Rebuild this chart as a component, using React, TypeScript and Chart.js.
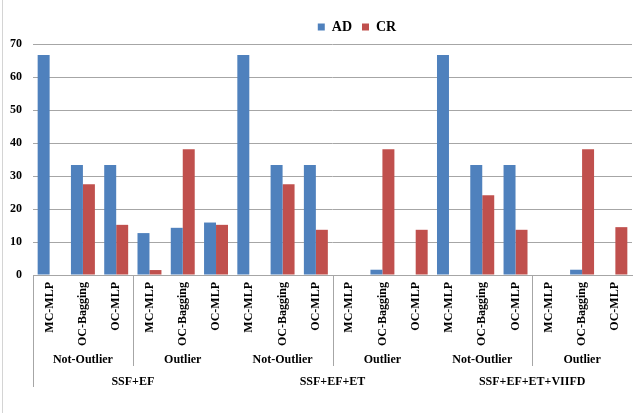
import React, { useEffect, useRef } from "react";
import { Chart, registerables } from "chart.js";

Chart.register(...registerables);

const methods = ["MC-MLP", "OC-Bagging", "OC-MLP"];
const subgroups = ["Not-Outlier", "Outlier"];
const groups = ["SSF+EF", "SSF+EF+ET", "SSF+EF+ET+VIIFD"];
const categories: string[] = [];
groups.forEach(() => subgroups.forEach(() => methods.forEach((m) => categories.push(m))));

const adValues = [66.7, 33.3, 33.3, 12.7, 14.3, 15.9, 66.7, 33.3, 33.3, 0, 1.6, 0, 66.7, 33.3, 33.3, 0, 1.6, 0];
const crValues = [0, 27.5, 15.2, 1.5, 38.1, 15.2, 0, 27.5, 13.7, 0, 38.1, 13.7, 0, 24.2, 13.7, 0, 38.1, 14.5];
const yTicks = [0, 10, 20, 30, 40, 50, 60, 70];

const SERIF = "'Liberation Serif', 'Times New Roman', serif";

const multiLevelPlugin = {
  id: "multiLevel",
  afterLayout(chart: any) {
    const lg = chart.legend;
    if (lg) {
      lg.left += 41;
      lg.right += 41;
    }
  },
  beforeDraw(chart: any) {
    const ctx = chart.ctx;
    ctx.save();
    ctx.strokeStyle = "#d4d4d4";
    ctx.lineWidth = 1;
    ctx.beginPath();
    ctx.moveTo(2.5, 0);
    ctx.lineTo(2.5, chart.height);
    ctx.stroke();
    ctx.restore();
  },
  afterDraw(chart: any) {
    const ctx = chart.ctx;
    const x = chart.scales.x;
    const y0 = chart.scales.y.getPixelForValue(0);
    const half = (x.getPixelForValue(1) - x.getPixelForValue(0)) / 2;
    const nM = methods.length;
    const nS = subgroups.length;
    ctx.save();
    ctx.strokeStyle = "#a6a6a6";
    ctx.lineWidth = 1;
    const leftX = Math.round(x.getPixelForValue(0) - half) + 0.5;
    ctx.beginPath();
    ctx.moveTo(leftX, y0);
    ctx.lineTo(leftX, y0 + 112);
    ctx.stroke();
    groups.forEach((g, gi) => {
      for (let si = 1; si < nS; si++) {
        const idx = gi * nS * nM + si * nM;
        const sx = Math.round(x.getPixelForValue(idx) - half) + 0.5;
        ctx.beginPath();
        ctx.moveTo(sx, y0);
        ctx.lineTo(sx, y0 + 91);
        ctx.stroke();
      }
    });
    ctx.fillStyle = "#000";
    ctx.textAlign = "center";
    ctx.textBaseline = "middle";
    ctx.font = "bold 12px " + SERIF;
    groups.forEach((g, gi) => {
      subgroups.forEach((s, si) => {
        const first = gi * nS * nM + si * nM;
        const last = first + nM - 1;
        const cx = (x.getPixelForValue(first) + x.getPixelForValue(last)) / 2;
        ctx.fillText(s, cx, y0 + 85);
      });
      const gFirst = gi * nS * nM;
      const gLast = gFirst + nS * nM - 1;
      const gx = (x.getPixelForValue(gFirst) + x.getPixelForValue(gLast)) / 2;
      ctx.fillText(g, gx, y0 + 107);
    });
    ctx.restore();
  },
};

export default function App() {
  const ref = useRef<HTMLCanvasElement | null>(null);
  useEffect(() => {
    document.body.style.margin = "0";
    const chart = new Chart(ref.current as HTMLCanvasElement, {
      type: "bar",
      data: {
        labels: categories,
        datasets: [
          {
            label: "AD",
            data: adValues,
            backgroundColor: "#4F81BD",
            borderWidth: 0,
            categoryPercentage: 0.72,
            barPercentage: 1,
          },
          {
            label: "CR",
            data: crValues,
            backgroundColor: "#C0504D",
            borderWidth: 0,
            categoryPercentage: 0.72,
            barPercentage: 1,
          },
        ],
      },
      options: {
        animation: false,
        responsive: true,
        maintainAspectRatio: false,
        layout: { padding: { top: 10, right: 8, bottom: 0, left: 0 } },
        plugins: {
          legend: {
            position: "top",
            labels: {
              boxWidth: 7,
              boxHeight: 7,
              padding: 10,
              color: "#000",
              font: { family: SERIF, size: 14, weight: "bold" },
            },
          },
          tooltip: { enabled: false },
        },
        scales: {
          x: {
            grid: { display: false, drawTicks: false },
            border: { display: true, color: "#a6a6a6" },
            ticks: {
              autoSkip: false,
              minRotation: 90,
              maxRotation: 90,
              padding: 7,
              color: "#000",
              font: { family: SERIF, size: 12, weight: "bold" },
            },
            afterFit(scale: any) {
              scale.height = 138;
            },
          },
          y: {
            min: 0,
            max: 70,
            afterBuildTicks(scale: any) {
              scale.ticks = yTicks.map((v) => ({ value: v }));
            },
            grid: { color: "#a6a6a6", drawTicks: false },
            border: { display: false },
            ticks: {
              padding: 11,
              color: "#000",
              font: { family: SERIF, size: 12, weight: "bold" },
            },
            afterFit(scale: any) {
              scale.width = 33;
            },
          },
        },
      },
      plugins: [multiLevelPlugin],
    });
    return () => chart.destroy();
  }, []);
  return (
    <div style={{ position: "relative", width: 640, height: 413 }}>
      <canvas ref={ref} />
    </div>
  );
}
